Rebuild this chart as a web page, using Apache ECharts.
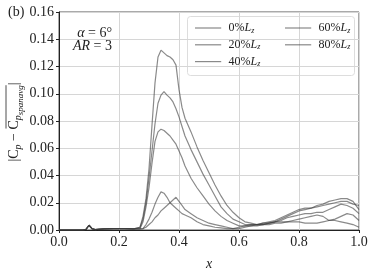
<!DOCTYPE html>
<html><head><meta charset="utf-8">
<script src="https://cdn.jsdelivr.net/npm/echarts@6/dist/echarts.min.js"></script>
<style>html,body{margin:0;padding:0;background:#fff}#c{width:374px;height:276px}</style>
</head><body><div id="c"></div>
<script>
// x positions of samples
const X = [0,0.05,0.08,0.09,0.10,0.11,0.12,0.15,0.18,0.20,0.22,0.25,
  0.27,0.28,0.29,0.30,0.31,0.32,0.33,0.34,0.35,0.36,0.37,0.38,0.39,0.40,0.41,0.42,
  0.44,0.46,0.48,0.50,0.52,0.54,0.56,0.58,0.60,0.62,0.64,0.66,0.68,0.70,0.72,0.74,0.76,0.78,0.80,0.82,0.84,0.86,0.88,0.90,0.92,0.94,0.96,0.98,1.00];
const BASE = [0,0,0,0.0005,0.0035,0.001,0.0003,0.0008,0.001,0.001,0.001,0.0008];
const Y0 = BASE.concat([0.002,0.01,0.023,0.045,0.077,0.108,0.127,0.132,0.130,0.128,0.127,0.125,0.121,0.103,0.090,0.082,
  0.072,0.061,0.051,0.042,0.033,0.025,0.018,0.013,0.009,0.006,0.005,0.004,0.004,0.005,0.006,0.008,0.010,0.012,0.014,0.015,0.016,0.018,0.019,0.021,0.022,0.023,0.023,0.021,0.015]);
const Y20 = BASE.concat([0.002,0.008,0.02,0.038,0.058,0.078,0.093,0.099,0.1015,0.099,0.097,0.094,0.089,0.083,0.076,0.069,
  0.059,0.050,0.041,0.033,0.025,0.017,0.012,0.008,0.006,0.004,0.004,0.004,0.005,0.006,0.007,0.009,0.011,0.013,0.015,0.016,0.016,0.017,0.018,0.019,0.020,0.021,0.021,0.019,0.018]);
const Y40 = BASE.concat([0.001,0.006,0.017,0.031,0.049,0.065,0.072,0.074,0.073,0.071,0.069,0.066,0.063,0.058,0.053,0.047,
  0.038,0.031,0.025,0.019,0.014,0.010,0.007,0.005,0.003,0.003,0.003,0.004,0.004,0.005,0.006,0.007,0.009,0.010,0.011,0.012,0.012,0.013,0.013,0.015,0.017,0.019,0.018,0.016,0.012]);
const Y60 = BASE.concat([0.0008,0.001,0.004,0.008,0.013,0.019,0.024,0.028,0.027,0.024,0.020,0.018,0.016,0.014,0.012,0.011,
  0.009,0.006,0.004,0.003,0.002,0.0015,0.001,0.001,0.001,0.002,0.003,0.003,0.004,0.004,0.005,0.005,0.006,0.007,0.008,0.009,0.010,0.011,0.010,0.007,0.008,0.010,0.012,0.011,0.007]);
const Y80 = BASE.concat([0.0008,0.001,0.002,0.004,0.006,0.009,0.011,0.014,0.016,0.018,0.020,0.022,0.024,0.021,0.018,0.015,
  0.012,0.009,0.007,0.005,0.004,0.003,0.002,0.001,0.002,0.003,0.004,0.004,0.005,0.005,0.006,0.006,0.006,0.006,0.006,0.005,0.005,0.005,0.006,0.007,0.007,0.006,0.005,0.004,0.002]);
const NAMES = ['0%Lz','20%Lz','40%Lz','60%Lz','80%Lz'];
const SERIES_Y = [Y0,Y20,Y40,Y60,Y80];
const X_TICKS = {min:0,max:1,interval:0.2};
const Y_TICKS = {min:0,max:0.16,interval:0.02};

const SERIF = '"Liberation Serif", "DejaVu Serif", serif';
const LINE_COLOR = 'rgba(60,60,60,0.6)';

const chart = echarts.init(document.getElementById('c'), null, {renderer:'canvas'});

// measure helper for the y-axis title layout
const mctx = document.createElement('canvas').getContext('2d');
function tw(s, font){ mctx.font = font; return mctx.measureText(s).width; }
const parts = [
  {s:'|', size:14, italic:false, dy:0},
  {s:'C', size:14, italic:false, dy:0},
  {s:'p', size:10, italic:true, dy:4},
  {s:' \u2212 ', size:14, italic:false, dy:0},
  {s:'C', size:14, italic:false, dy:0, ov:true},
  {s:'p', size:10, italic:true, dy:4, ov:true},
  {s:'spanavg', size:9, italic:true, dy:7, ov:true},
  {s:'|', size:14, italic:false, dy:0}
];
let total = 0;
parts.forEach(p=>{ p.font=(p.italic?'italic ':'')+p.size+'px '+SERIF; p.w=tw(p.s,p.font); total+=p.w; });
let cx = -total/2, ovStart=null, ovEnd=null;
const titleChildren = [];
parts.forEach(p=>{
  titleChildren.push({type:'text', x:cx, y:p.dy, style:{text:p.s, font:p.font, fill:'#222', textAlign:'left', textVerticalAlign:'middle'}});
  if(p.ov){ if(ovStart===null) ovStart=cx; ovEnd=cx+p.w; }
  cx += p.w;
});
titleChildren.push({type:'line', shape:{x1:ovStart+1, y1:-8, x2:ovEnd, y2:-8}, style:{stroke:'#222', lineWidth:0.8}});

const legendRich = {
  a:{fontFamily:SERIF, fontSize:12, color:'#222'},
  b:{fontFamily:SERIF, fontSize:12, fontStyle:'italic', color:'#222'},
  c:{fontFamily:SERIF, fontSize:8, fontStyle:'italic', color:'#222', padding:[5,0,0,0]}
};
function legendFmt(n){ const m = n.match(/^(\d+)%/); return '{a|'+m[1]+'%}{b|L}{c|z}'; }
const legendCommon = {
  orient:'vertical', top:17, itemWidth:25, itemHeight:12, itemGap:4.3,
  icon:'path://M0,0L25,0L25,0.01L0,0.01Z',
  itemStyle:{borderColor:LINE_COLOR, borderWidth:1.2, color:LINE_COLOR},
  textStyle:{rich:legendRich, padding:[0,0,0,3]},
  formatter:legendFmt, selectedMode:false
};

chart.setOption({
  animation:false,
  grid:{left:59, right:15, top:12, bottom:43, show:true, borderColor:'#555', borderWidth:1},
  xAxis:{type:'value', min:X_TICKS.min, max:X_TICKS.max, interval:X_TICKS.interval,
    axisLine:{show:true, lineStyle:{color:'#222', width:1}},
    axisTick:{show:true, length:3, lineStyle:{color:'#222'}},
    axisLabel:{formatter:v=>v.toFixed(1), fontFamily:SERIF, fontSize:14, color:'#222', margin:5},
    splitLine:{show:true, lineStyle:{color:'#d6d6d6', width:1}},
    name:'x', nameLocation:'middle', nameGap:27,
    nameTextStyle:{fontFamily:SERIF, fontSize:14, fontStyle:'italic', color:'#222'}},
  yAxis:{type:'value', min:Y_TICKS.min, max:Y_TICKS.max, interval:Y_TICKS.interval,
    axisLine:{show:true, lineStyle:{color:'#222', width:1}},
    axisTick:{show:true, length:3, lineStyle:{color:'#222'}},
    axisLabel:{formatter:v=>v.toFixed(2), fontFamily:SERIF, fontSize:14, color:'#222', margin:5},
    splitLine:{show:true, lineStyle:{color:'#d6d6d6', width:1}}},
  legend:[
    Object.assign({left:190, data:NAMES.slice(0,3)}, legendCommon),
    Object.assign({left:280, data:NAMES.slice(3)}, legendCommon)
  ],
  graphic:[
    {type:'rect', left:187, top:16, shape:{width:167, height:59, r:3}, style:{fill:'rgba(255,255,255,0.8)', stroke:'#ddd', lineWidth:1}, z:-1, zlevel:0},
    {type:'text', left:8, top:5, style:{text:'(b)', font:'14px '+SERIF, fill:'#222'}},
    {type:'text', x:112, y:33, style:{text:'{i|\u03b1} = 6\u00b0', textAlign:'right', textVerticalAlign:'middle', font:'14px '+SERIF, fill:'#222', rich:{i:{fontStyle:'italic', fontFamily:SERIF, fontSize:14}}}},
    {type:'text', x:112, y:46, style:{text:'{i|AR} = 3', textAlign:'right', textVerticalAlign:'middle', font:'14px '+SERIF, fill:'#222', rich:{i:{fontStyle:'italic', fontFamily:SERIF, fontSize:14}}}},
    {type:'group', x:14, y:122, rotation:Math.PI/2, children:titleChildren}
  ],
  series: SERIES_Y.map((ys,i)=>({
    name:NAMES[i], type:'line', symbol:'none', showSymbol:false,
    data: X.map((x,j)=>[x, ys[j]]),
    lineStyle:{color:LINE_COLOR, width:1.2}, itemStyle:{color:LINE_COLOR}
  }))
});
</script></body></html>
